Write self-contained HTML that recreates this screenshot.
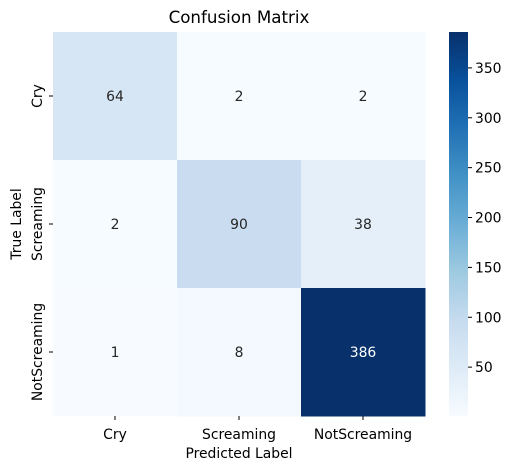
<!DOCTYPE html>
<html><head><meta charset="utf-8"><style>
body{margin:0;background:#fff;font-family:"Liberation Sans","DejaVu Sans",sans-serif;}
svg text{font-family:"DejaVu Sans","Liberation Sans",sans-serif;}
</style></head><body>
<svg id="c" width="513" height="470" xmlns="http://www.w3.org/2000/svg">
<defs><linearGradient id="cbg" x1="0" y1="1" x2="0" y2="0">
<stop offset="0" stop-color="#f7fbff"/><stop offset="0.125" stop-color="#deebf7"/><stop offset="0.25" stop-color="#c6dbef"/><stop offset="0.375" stop-color="#9ecae1"/><stop offset="0.5" stop-color="#6baed6"/><stop offset="0.625" stop-color="#4292c6"/><stop offset="0.75" stop-color="#2171b5"/><stop offset="0.875" stop-color="#08519c"/><stop offset="1" stop-color="#08306b"/>
</linearGradient></defs>
<text x="239" y="23" font-size="16.7" text-anchor="middle" fill="#000">Confusion Matrix</text>
<g id="cells"></g>
<rect x="449" y="32" width="19" height="384" fill="url(#cbg)"/>
<g id="cbt"></g>
<text x="239" y="458" font-size="13.9" text-anchor="middle">Predicted Label</text>
<text x="0" y="0" font-size="13.9" text-anchor="middle" transform="translate(21,224) rotate(-90)">True Label</text>
</svg>
<script>
const categories=["Cry","Screaming","NotScreaming"];
const row0=[64,2,2];
const row1=[2,90,38];
const row2=[1,8,386];
const cbTicks=[50,100,150,200,250,300,350];
const matrix=[row0,row1,row2];
const NS="http://www.w3.org/2000/svg";
const L=53,T=32,W=372,H=384,cw=W/3,ch=H/3;
let all=[].concat(...matrix);const vmin=Math.min(...all),vmax=Math.max(...all);
const stops=["#f7fbff","#deebf7","#c6dbef","#9ecae1","#6baed6","#4292c6","#2171b5","#08519c","#08306b"].map(h=>[1,3,5].map(i=>parseInt(h.substr(i,2),16)));
function color(v){let t=(v-vmin)/(vmax-vmin);t=Math.max(0,Math.min(1,t))*8;let i=Math.min(7,Math.floor(t)),f=t-i;const a=stops[i],b=stops[i+1];return a.map((x,k)=>Math.round(x+(b[k]-x)*f));}
function cy(v){return T+H*(vmax-v)/(vmax-vmin);}
function el(n,a,p){const e=document.createElementNS(NS,n);for(const k in a)e.setAttribute(k,a[k]);p.appendChild(e);return e;}
const g=document.getElementById('cells'),svg=document.getElementById('c');
matrix.forEach((row,r)=>row.forEach((v,c)=>{
 const col=color(v);
 const rc=el('rect',{x:L+c*cw,y:T+r*ch,width:cw+0.5,height:ch+0.5,fill:`rgb(${col})`},g);
 
 
 const lum=(0.299*col[0]+0.587*col[1]+0.114*col[2])/255;
 const tx=el('text',{x:L+c*cw+cw/2,y:T+r*ch+ch/2+5,'font-size':13.9,'text-anchor':'middle',fill:lum<0.5?'#fff':'#262626'},g);
 tx.textContent=v;
 
 
}));
categories.forEach((n,i)=>{
 const x=L+i*cw+cw/2;
 el('line',{x1:x,x2:x,y1:T+H,y2:T+H+4,stroke:'#000'},svg);
 const t=el('text',{x:x,y:T+H+23,'font-size':13.9,'text-anchor':'middle'},svg);t.textContent=n;
 
 
 const y=T+i*ch+ch/2;
 el('line',{x1:L-4,x2:L,y1:y,y2:y,stroke:'#000'},svg);
 const t2=el('text',{x:0,y:0,'font-size':13.9,'text-anchor':'middle',transform:`translate(${L-11},${y}) rotate(-90)`},svg);t2.textContent=n;
 
 
});
const cb=document.getElementById('cbt');
cbTicks.forEach(v=>{
 const y=cy(v);
 el('line',{x1:468,x2:472,y1:y,y2:y,stroke:'#000'},cb);
 const t=el('text',{x:475,y:y+5,'font-size':13.9},cb);t.textContent=v;
 
 
});
</script>
</body></html>
